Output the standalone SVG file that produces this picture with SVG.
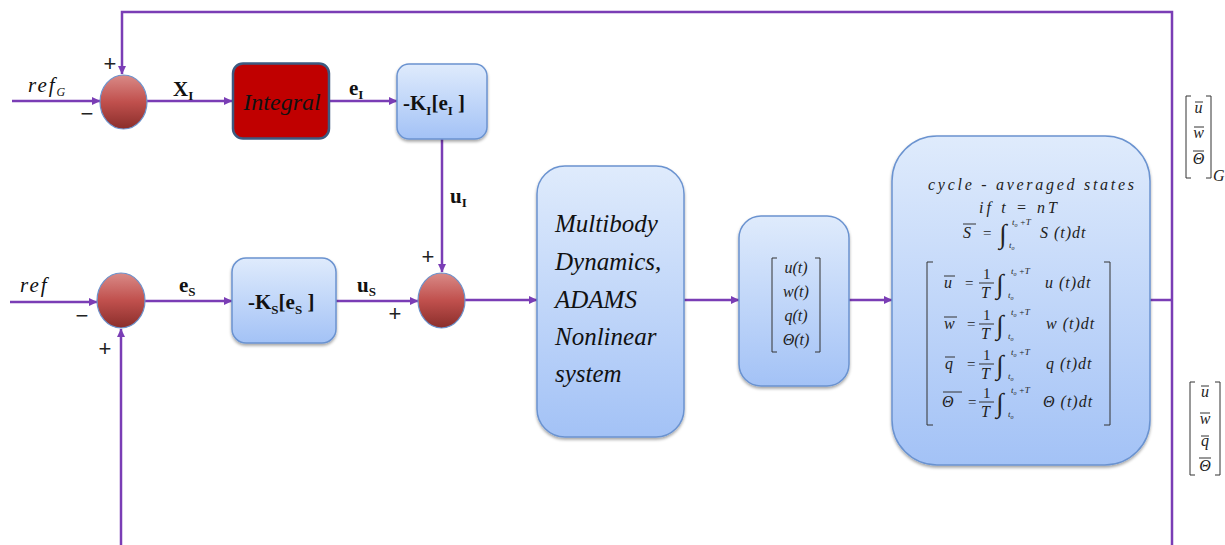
<svg xmlns="http://www.w3.org/2000/svg" width="1225" height="545" viewBox="0 0 1225 545">
  <style>
    .wire { fill: none; stroke: #7a3db5; stroke-width: 2.5; }
    .arr { marker-end: url(#head); }
    .blue { fill: url(#blueGrad); stroke: #6b93d0; stroke-width: 1.5; filter: url(#shadow); }
    .sum { fill: url(#sumGrad); stroke: #6d93cc; stroke-width: 1.2; }
    .sign { font-family: "Liberation Sans", Arial, sans-serif; font-size: 22px; fill: #222; text-anchor: middle; }
    .lbl { font-family: "Liberation Serif", "Times New Roman", serif; font-weight: bold; font-size: 21px; fill: #111; }
    .sub { font-size: 13px; }
    .it { font-family: "Liberation Serif", "Times New Roman", serif; font-style: italic; fill: #111; }
    .m { font-family: "Liberation Serif", "Times New Roman", serif; font-style: italic; font-size: 16px; fill: #222; }
    .rm { font-family: "Liberation Serif", "Times New Roman", serif; font-size: 15px; fill: #222; }
    .lim { font-family: "Liberation Serif", "Times New Roman", serif; font-style: italic; font-size: 9px; fill: #222; }
    .intg { font-family: "Liberation Serif", "DejaVu Serif", serif; font-size: 27px; fill: #222; }
    .thin { fill: none; stroke: #333; stroke-width: 1; }
  </style>
  <defs>
    <marker id="head" markerUnits="userSpaceOnUse" markerWidth="9" markerHeight="9" refX="8" refY="4.5" orient="auto">
      <path d="M0,0.5 L8.5,4.5 L0,8.5 z" fill="#7a3db5"/>
    </marker>
    <linearGradient id="blueGrad" x1="0" y1="0" x2="0" y2="1">
      <stop offset="0" stop-color="#dfebfc"/>
      <stop offset="1" stop-color="#a3c2f6"/>
    </linearGradient>
    <linearGradient id="sumGrad" x1="0" y1="0" x2="0" y2="1">
      <stop offset="0" stop-color="#d98a87"/>
      <stop offset="0.5" stop-color="#c0504d"/>
      <stop offset="1" stop-color="#8a2e2b"/>
    </linearGradient>
    <filter id="shadow" x="-10%" y="-10%" width="120%" height="125%">
      <feDropShadow dx="0" dy="2" stdDeviation="1.8" flood-color="#000" flood-opacity="0.35"/>
    </filter>
  </defs>

  <rect width="1225" height="545" fill="#fff"/>

  <!-- connectors -->
  <g id="connectors">
    <path class="wire arr" d="M1172,545 V12 H122 V74"/>
    <path class="wire arr" d="M121,545 V329"/>
    <path class="wire arr" d="M12,101 H100"/>
    <path class="wire arr" d="M147,101 H232"/>
    <path class="wire arr" d="M329,101 H397"/>
    <path class="wire arr" d="M442,139 V272"/>
    <path class="wire arr" d="M10,302 H97"/>
    <path class="wire arr" d="M145,301 H232"/>
    <path class="wire arr" d="M336,301 H418"/>
    <path class="wire arr" d="M465,300 H537"/>
    <path class="wire arr" d="M684,300 H739"/>
    <path class="wire arr" d="M849,300 H892"/>
    <path class="wire" d="M1150,300 H1172"/>
  </g>

  <!-- signal labels -->
  <g id="labels">
    <text class="it" x="28" y="92" font-size="21" letter-spacing="2">ref<tspan font-size="12" dy="4">G</tspan></text>
    <text class="it" x="20" y="292" font-size="21" letter-spacing="2">ref</text>
    <text class="lbl" x="173" y="96">X<tspan class="sub" dy="4">I</tspan></text>
    <text class="lbl" x="349" y="95">e<tspan class="sub" dy="4">I</tspan></text>
    <text class="lbl" x="450" y="203">u<tspan class="sub" dy="4">I</tspan></text>
    <text class="lbl" x="179" y="292">e<tspan class="sub" dy="4">S</tspan></text>
    <text class="lbl" x="357" y="292">u<tspan class="sub" dy="4">S</tspan></text>
    <text class="sign" x="110" y="71">+</text>
    <text class="sign" x="87" y="121">−</text>
    <text class="sign" x="82" y="323">−</text>
    <text class="sign" x="105" y="356">+</text>
    <text class="sign" x="395" y="321">+</text>
    <text class="sign" x="428" y="264">+</text>
  </g>

  <!-- summing junctions -->
  <g id="sum1"><ellipse class="sum" cx="123.5" cy="102" rx="23.5" ry="27"/></g>
  <g id="sum2"><ellipse class="sum" cx="121" cy="300.5" rx="24" ry="27.5"/></g>
  <g id="sum3"><ellipse class="sum" cx="441.5" cy="300.5" rx="23.5" ry="27.5"/></g>

  <!-- integral block -->
  <g id="integral">
    <rect x="233" y="63.5" width="96" height="75" rx="10" fill="#c00000" stroke="#3d5a80" stroke-width="2.5"/>
    <text class="it" x="282" y="110" font-size="24" text-anchor="middle">Integral</text>
  </g>

  <!-- gain blocks -->
  <g id="gainI">
    <rect class="blue" x="397" y="64" width="90" height="75" rx="12"/>
    <text class="lbl" x="403" y="110" font-size="22">-K<tspan class="sub" dy="5">I</tspan><tspan dy="-5">[e</tspan><tspan class="sub" dy="5">I</tspan><tspan dy="-5"> ]</tspan></text>
  </g>
  <g id="gainS">
    <rect class="blue" x="232" y="258" width="104" height="85" rx="14"/>
    <text class="lbl" x="248" y="309" font-size="22">-K<tspan class="sub" dy="5">S</tspan><tspan dy="-5">[e</tspan><tspan class="sub" dy="5">S</tspan><tspan dy="-5"> ]</tspan></text>
  </g>

  <!-- plant -->
  <g id="plant">
    <rect class="blue" x="537" y="166" width="147" height="271" rx="28"/>
    <g class="it" font-size="25">
      <text x="555" y="232">Multibody</text>
      <text x="555" y="270">Dynamics,</text>
      <text x="555" y="308">ADAMS</text>
      <text x="555" y="345">Nonlinear</text>
      <text x="555" y="382">system</text>
    </g>
  </g>

  <!-- state vector -->
  <g id="states">
    <rect class="blue" x="739" y="216" width="110" height="170" rx="22"/>
    <path class="thin" d="M777,258 H772 V352 H777 M815,258 H820 V352 H815"/>
    <g class="m" font-size="14" text-anchor="middle">
      <text x="796" y="273">u(t)</text>
      <text x="796" y="297">w(t)</text>
      <text x="796" y="321">q(t)</text>
      <text x="796" y="345">Θ(t)</text>
    </g>
  </g>

  <!-- cycle averaging block -->
  <g id="averaging">
    <rect class="blue" x="892" y="136" width="258" height="329" rx="45"/>
    <text class="m" x="928" y="190" font-size="14" textLength="206" lengthAdjust="spacing">cycle - averaged states</text>
    <text class="m" x="979" y="213" font-size="16" textLength="78" lengthAdjust="spacing">if  t  =  nT</text>

    <!-- S bar -->
    <g transform="translate(0,233)">
      <text class="m" x="963" y="5" font-size="17">S</text>
      <line class="thin" x1="963" y1="-9" x2="976" y2="-9"/>
      <text class="rm" x="983" y="5">=</text>
      <text class="intg" x="999" y="10">∫</text>
      <text class="lim" x="1012" y="-8">t<tspan font-size="6" dy="2">o</tspan><tspan dy="-2"> +T</tspan></text>
      <text class="lim" x="1009" y="15">t<tspan font-size="6" dy="2">o</tspan></text>
      <text class="m" x="1040" y="5" font-size="17" letter-spacing="1">S (t)dt</text>
    </g>

    <path class="thin" d="M933,262 H927 V425 H933 M1104,262 H1110 V425 H1104"/>

    <g transform="translate(0,283)">
      <text class="m" x="944" y="5" font-size="17">u</text>
      <line class="thin" x1="944" y1="-7" x2="955" y2="-7"/>
      <text class="rm" x="965" y="5">=</text>
      <text class="rm" x="983" y="-4" font-size="14">1</text>
      <line class="thin" x1="979" y1="0" x2="994" y2="0"/>
      <text class="m" x="981" y="15" font-size="15">T</text>
      <text class="intg" x="996" y="10">∫</text>
      <text class="lim" x="1011" y="-9">t<tspan font-size="6" dy="2">o</tspan><tspan dy="-2"> +T</tspan></text>
      <text class="lim" x="1008" y="15">t<tspan font-size="6" dy="2">o</tspan></text>
      <text class="m" x="1045" y="5" font-size="17" letter-spacing="1">u (t)dt</text>
    </g>
    <g transform="translate(0,324)">
      <text class="m" x="944" y="5" font-size="17">w</text>
      <line class="thin" x1="944" y1="-7" x2="957" y2="-7"/>
      <text class="rm" x="967" y="5">=</text>
      <text class="rm" x="983" y="-4" font-size="14">1</text>
      <line class="thin" x1="979" y1="0" x2="994" y2="0"/>
      <text class="m" x="981" y="15" font-size="15">T</text>
      <text class="intg" x="996" y="10">∫</text>
      <text class="lim" x="1011" y="-9">t<tspan font-size="6" dy="2">o</tspan><tspan dy="-2"> +T</tspan></text>
      <text class="lim" x="1008" y="15">t<tspan font-size="6" dy="2">o</tspan></text>
      <text class="m" x="1046" y="5" font-size="17" letter-spacing="1">w (t)dt</text>
    </g>
    <g transform="translate(0,364)">
      <text class="m" x="945" y="5" font-size="17">q</text>
      <line class="thin" x1="945" y1="-7" x2="955" y2="-7"/>
      <text class="rm" x="967" y="5">=</text>
      <text class="rm" x="983" y="-4" font-size="14">1</text>
      <line class="thin" x1="979" y1="0" x2="994" y2="0"/>
      <text class="m" x="981" y="15" font-size="15">T</text>
      <text class="intg" x="996" y="10">∫</text>
      <text class="lim" x="1011" y="-9">t<tspan font-size="6" dy="2">o</tspan><tspan dy="-2"> +T</tspan></text>
      <text class="lim" x="1008" y="15">t<tspan font-size="6" dy="2">o</tspan></text>
      <text class="m" x="1046" y="5" font-size="17" letter-spacing="1">q (t)dt</text>
    </g>
    <g transform="translate(0,402)">
      <text class="m" x="942" y="5" font-size="17">Θ</text>
      <line class="thin" x1="943" y1="-10" x2="962" y2="-10"/>
      <text class="rm" x="968" y="5">=</text>
      <text class="rm" x="983" y="-4" font-size="14">1</text>
      <line class="thin" x1="979" y1="0" x2="994" y2="0"/>
      <text class="m" x="981" y="15" font-size="15">T</text>
      <text class="intg" x="996" y="10">∫</text>
      <text class="lim" x="1011" y="-9">t<tspan font-size="6" dy="2">o</tspan><tspan dy="-2"> +T</tspan></text>
      <text class="lim" x="1008" y="15">t<tspan font-size="6" dy="2">o</tspan></text>
      <text class="m" x="1043" y="5" font-size="17" letter-spacing="1">Θ (t)dt</text>
    </g>
  </g>

  <!-- averaged output vectors -->
  <g id="outG">
    <path class="thin" d="M1191,96 H1186 V178 H1191 M1206,96 H1211 V178 H1206"/>
    <g class="m" font-size="14" text-anchor="middle">
      <text x="1198.5" y="113">u</text>
      <text x="1198.5" y="138">w</text>
      <text x="1198.5" y="164">Θ</text>
    </g>
    <path class="thin" d="M1195,102 H1203 M1194,127 H1204 M1193,151 H1204"/>
    <text class="m" x="1213" y="181" font-size="8.5">G</text>
  </g>
  <g id="outS">
    <path class="thin" d="M1195,382 H1190 V475 H1195 M1215,382 H1220 V475 H1215"/>
    <g class="m" font-size="14" text-anchor="middle">
      <text x="1205" y="397">u</text>
      <text x="1205" y="424">w</text>
      <text x="1205" y="446">q</text>
      <text x="1205" y="471">Θ</text>
    </g>
    <path class="thin" d="M1201,386 H1209 M1200,413 H1210 M1201,436 H1209 M1199,458 H1211"/>
  </g>
</svg>
